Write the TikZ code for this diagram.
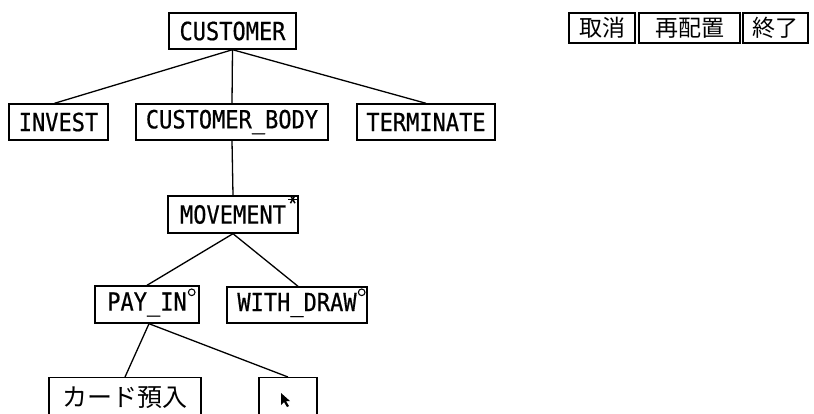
\documentclass[tikz,border=0pt]{standalone}
\usepackage{fontspec}
\newfontfamily\boxfont[FakeStretch=0.88,FakeBold=0.6]{DejaVu Sans Mono}
\newfontfamily\cjk{Noto Sans CJK JP}
\newcommand{\us}{\char"5F\relax}
\usetikzlibrary{calc}
\tikzset{
  box/.style={draw=black, line width=1.4pt, rectangle, inner sep=0pt,
    minimum height=36pt, font=\boxfont\fontsize{25}{25}\selectfont, text=black},
  jbox/.style={box, font=\cjk\fontsize{25}{25}\selectfont},
  btn/.style={draw=black, line width=1.3pt, rectangle, inner sep=0pt,
    minimum height=30pt, font=\cjk\fontsize{23}{23}\selectfont},
  link/.style={draw=black, line width=1.3pt}
}
\begin{document}
\begin{tikzpicture}[x=1pt,y=-1pt]
\clip (0,0) rectangle (814,413);
\fill[white] (0,0) rectangle (814,413);
% tree nodes
\node[box, minimum width=127pt] (cust) at (232.5,31) {CUSTOMER};
\node[box, minimum width=99pt] (inv) at (58.5,122) {INVEST};
\node[box, minimum width=192pt] (body) at (232,122) {CUSTOMER\us BODY};
\node[box, minimum width=138pt] (term) at (426,122) {TERMINATE};
\node[box, minimum width=130pt, minimum height=37pt] (mov) at (233,214.5) {MOVEMENT\hspace{8pt}};
\node[box, minimum width=104pt, minimum height=37pt] (pay) at (147,304.5) {PAY\us IN\hspace{10pt}};
\node[box, minimum width=140pt] (wd) at (297,305) {WITH\us DRAW\hspace{6pt}};
\node[jbox, minimum width=152pt, minimum height=40pt, anchor=north] (card) at (125,377) {カード預入};
\node[box, minimum width=58pt, minimum height=40pt, anchor=north] (cur) at (288,377) {};
% buttons
\node[btn, minimum width=66pt] (b1) at (602,28) {取消};
\node[btn, minimum width=101pt] (b2) at (689.5,28) {再配置};
\node[btn, minimum width=65pt] (b3) at (775.5,28) {終了};
% connectors
\draw[link] (cust.south) -- ($(inv.north)+(-4,0)$);
\draw[link] (cust.south) -- (body.north);
\draw[link] (cust.south) -- (term.north);
\draw[link] (body.south) -- (mov.north);
\draw[link] (mov.south) -- (pay.north);
\draw[link] (mov.south) -- ($(wd.north)+(1,0)$);
\draw[link] ($(pay.south)+(2,0)$) -- (card.north);
\draw[link] ($(pay.south)+(2,0)$) -- (cur.north);
% markers: asterisk on MOVEMENT, circles on PAY_IN and WITH_DRAW
\coordinate (ast) at ($(mov.north east)+(-6,4)$);
\foreach \a in {0,60,120}
  \draw[line width=1.5pt] ($(ast)+(\a:4.5)$) -- ($(ast)+(\a+180:4.5)$);
\draw[line width=1.1pt] ($(pay.north east)+(-8,7)$) circle (3.3);
\draw[line width=1.1pt] ($(wd.north east)+(-6,6)$) circle (3.3);
% cursor
\fill[black] ($(cur.north)+(-7,16)$)
  -- ++(0,12) -- ++(3,-3) -- ++(3,5) -- ++(2,-1) -- ++(-3,-5) -- ++(4,0) -- cycle;
\end{tikzpicture}
\end{document}
